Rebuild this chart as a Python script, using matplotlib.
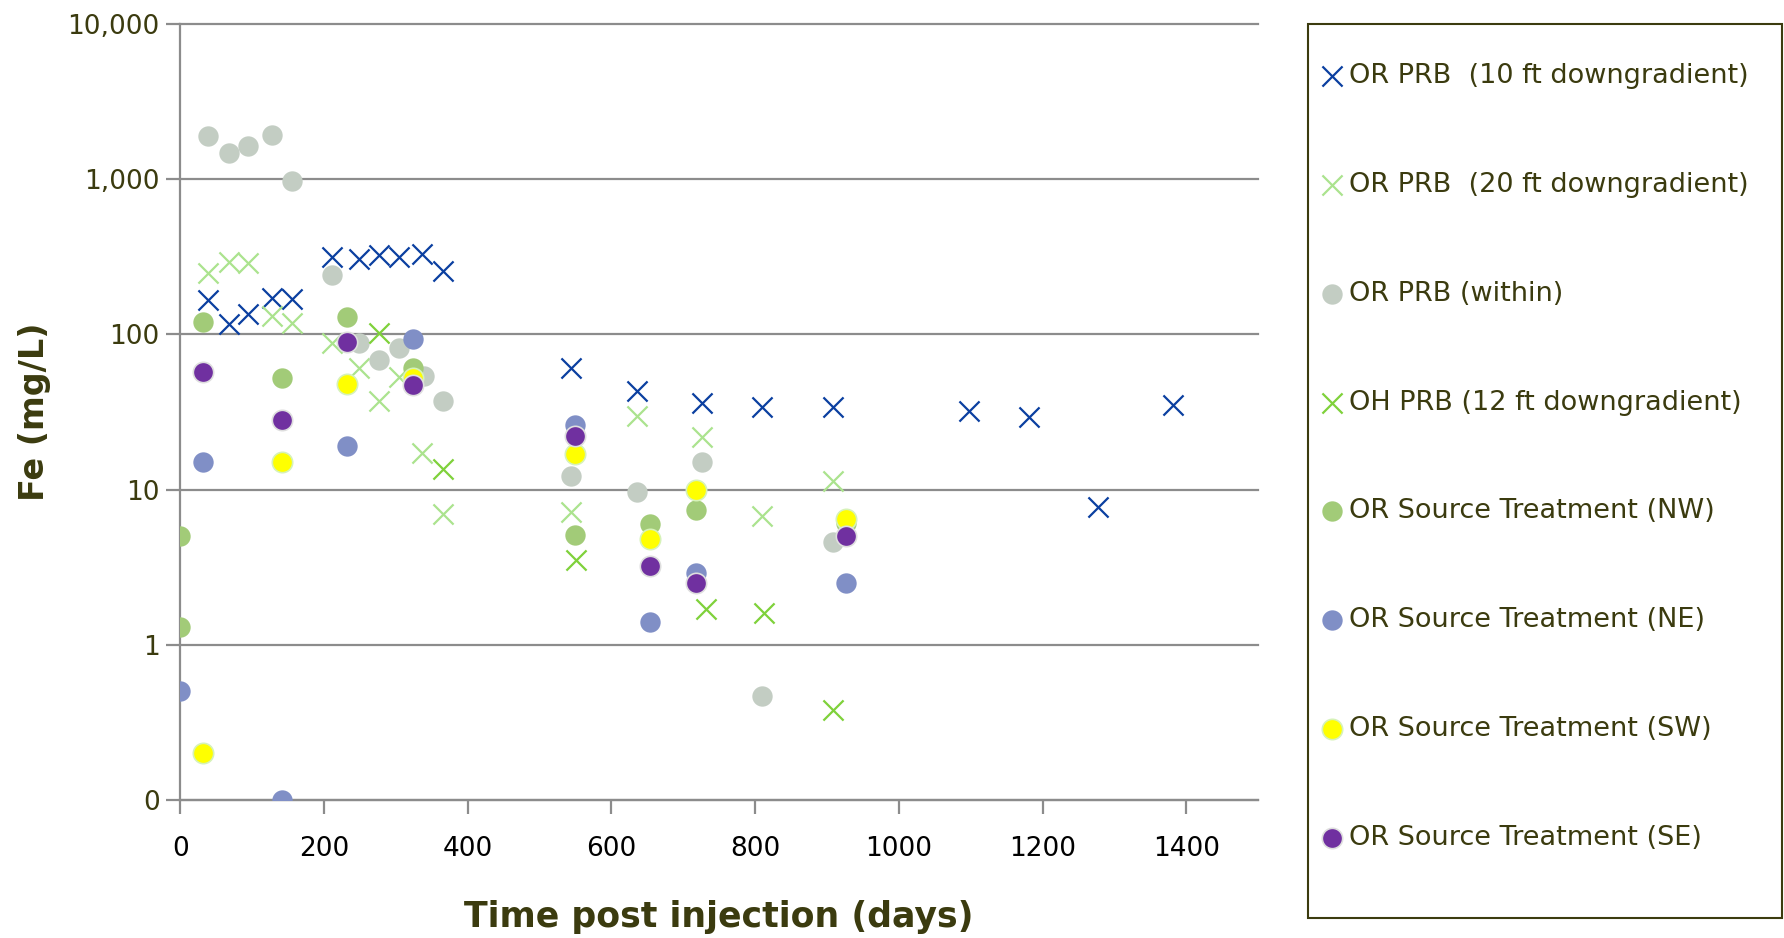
import matplotlib
matplotlib.use("Agg")
import matplotlib.pyplot as plt
from matplotlib.patches import Rectangle
from matplotlib.ticker import FixedLocator, FuncFormatter, NullLocator

# ---------------------------------------------------------
# data
# ---------------------------------------------------------
days_prb10 = [38, 67, 94, 128, 155, 211, 249, 276, 304, 337, 366, 544, 635, 726, 809, 908, 1097, 1181, 1277, 1382]
fe_prb10 = [166, 117, 135, 172, 168, 316, 307, 326, 316, 330, 255, 61, 43, 36, 34, 34, 32, 29.5, 7.7, 35]

days_prb20 = [38, 67, 94, 128, 155, 211, 249, 276, 304, 337, 366, 544, 635, 726, 809, 908]
fe_prb20 = [247, 294, 287, 131, 119, 88, 61, 37, 53, 17.2, 7.0, 7.2, 29.7, 21.9, 6.8, 11.3]

days_within = [38, 67, 94, 128, 155, 211, 249, 276, 304, 339, 366, 544, 635, 726, 809, 908]
fe_within = [1896, 1466, 1633, 1923, 968, 242, 88, 68, 82, 54, 37, 12.3, 9.6, 15, 0.47, 4.6]

days_oh = [276, 365, 550, 731, 812, 908]
fe_oh = [102, 13.5, 3.5, 1.7, 1.6, 0.38]

days_nw = [0, 0, 31, 142, 232, 324, 549, 654, 717, 927]
fe_nw = [5.0, 1.3, 120, 52, 129, 61, 5.1, 6.0, 7.4, 6.1]

days_ne = [0, 31, 142, 232, 324, 549, 654, 717, 927]
fe_ne = [0.5, 15, 0.1, 19, 93, 26, 1.4, 2.9, 2.5]

days_sw = [31, 142, 232, 324, 549, 654, 717, 927]
fe_sw = [0.2, 15, 48, 52, 17, 4.8, 10, 6.5]

days_se = [31, 142, 232, 324, 549, 654, 717, 927]
fe_se = [57, 28, 89, 47, 22, 3.2, 2.5, 5.0]

labels = [
    "OR PRB  (10 ft downgradient)",
    "OR PRB  (20 ft downgradient)",
    "OR PRB (within)",
    "OH PRB (12 ft downgradient)",
    "OR Source Treatment (NW)",
    "OR Source Treatment (NE)",
    "OR Source Treatment (SW)",
    "OR Source Treatment (SE)",
]

y_ticks = [0.1, 1, 10, 100, 1000, 10000]
x_ticks = [0, 200, 400, 600, 800, 1000, 1200, 1400]

# ---------------------------------------------------------
# style
# ---------------------------------------------------------
TEXT = "#3b3b0f"
GRID = "#8c8c8c"
W, H = 1784, 938

plt.rcParams["font.family"] = ["DejaVu Sans"]

fig = plt.figure(figsize=(W / 100, H / 100), dpi=100)
ax = fig.add_axes([0.1011, 0.1471, 0.6041, 0.8276])

x_kw = dict(marker="x", s=210, linewidths=1.6)
o_kw = dict(marker="o", s=215)

ax.scatter(days_prb10, fe_prb10, color="#0b3fa0", label=labels[0], zorder=3, **x_kw)
ax.scatter(days_prb20, fe_prb20, color="#abe38e", label=labels[1], zorder=3, **x_kw)
ax.scatter(days_within, fe_within, color="#c3cdc3", label=labels[2], zorder=3, linewidths=0, **o_kw)
ax.scatter(days_oh, fe_oh, color="#7fd13b", label=labels[3], zorder=3, **x_kw)
ax.scatter(days_nw, fe_nw, color="#a2cb78", label=labels[4], zorder=3, linewidths=0, **o_kw)
ax.scatter(days_ne, fe_ne, color="#808fc6", label=labels[5], zorder=3, linewidths=0, **o_kw)
ax.scatter(days_sw, fe_sw, color="#ffff00", edgecolors="#d6f2b8", label=labels[6], zorder=3, linewidths=1.2, **o_kw)
ax.scatter(days_se, fe_se, color="#7030a0", edgecolors="#dedede", label=labels[7], zorder=3, linewidths=1.2, **o_kw)

# axes
ax.set_yscale("log")
ax.set_ylim(0.1, 10000)
ax.set_xlim(0, 1500)
ax.yaxis.set_major_locator(FixedLocator(y_ticks))
ax.yaxis.set_minor_locator(NullLocator())
ax.yaxis.set_major_formatter(FuncFormatter(lambda v, p: f"{v:,.0f}"))
ax.xaxis.set_major_locator(FixedLocator(x_ticks))

ax.grid(axis="y", color=GRID, linewidth=1.6, zorder=1)
ax.set_axisbelow(True)
for gl in ax.get_ygridlines():
    gl.set_clip_on(False)
for side in ["top", "right"]:
    ax.spines[side].set_visible(False)
for side in ["left", "bottom"]:
    ax.spines[side].set_color(GRID)
    ax.spines[side].set_linewidth(1.6)

ax.tick_params(axis="y", colors=GRID, labelcolor=TEXT, labelsize=19, length=10, width=1.6, pad=5)
ax.tick_params(axis="x", colors=GRID, labelcolor="black", labelsize=19, length=10, width=1.6, pad=16)

ax.set_ylabel("Fe (mg/L)", fontsize=24, fontweight="bold", color=TEXT)
ax.yaxis.set_label_coords(-0.12, 0.5)
ax.set_xlabel("Time post injection (days)", fontsize=25, fontweight="bold", color=TEXT, labelpad=27)

# legend: frame drawn as a separate box, entries placed inside it
fig.add_artist(Rectangle((1308 / W, 1 - 918 / H), 474 / W, 894 / H,
                         transform=fig.transFigure, facecolor="white",
                         edgecolor=TEXT, linewidth=1.5, zorder=0))
leg = fig.legend(
    loc="upper left",
    bbox_to_anchor=(1322 / W, 1 - 63 / H),
    fontsize=19.5,
    labelspacing=3.06,
    borderpad=0,
    handlelength=0.76,
    handletextpad=0.25,
    borderaxespad=0,
    frameon=False,
)
for t in leg.get_texts():
    t.set_color(TEXT)

fig.savefig("out.png", dpi=100)
